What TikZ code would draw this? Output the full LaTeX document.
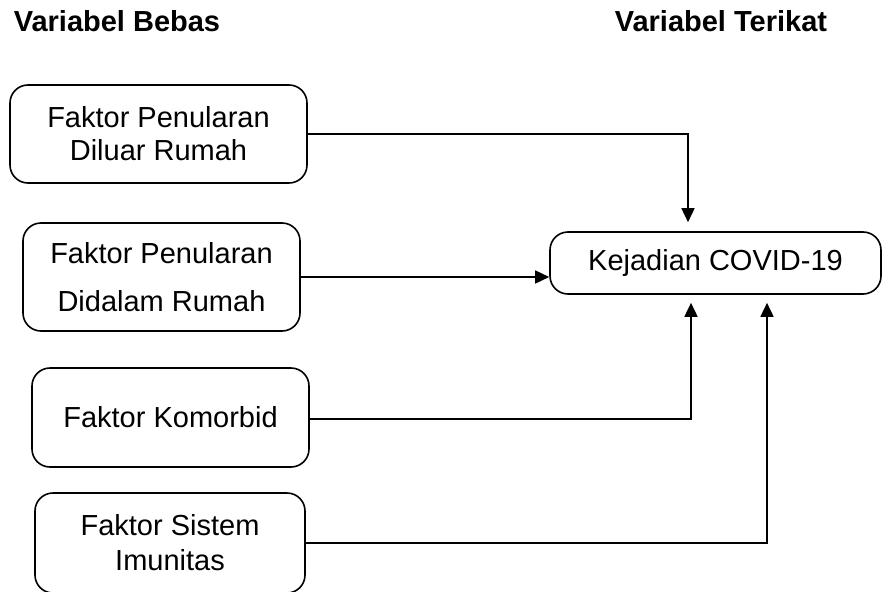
\documentclass[tikz,border=0pt]{standalone}
\usepackage{fontspec}
\setmainfont{Liberation Sans}
\usetikzlibrary{positioning, calc, arrows.meta}

\begin{document}
\begin{tikzpicture}[x=1pt, y=-1pt, ->, >={Triangle[length=14pt,width=13pt]}, line width=1.6pt,
  faktor/.style={draw, rectangle, rounded corners=18pt, align=center, inner sep=0pt,
    font=\fontsize{29}{33}\selectfont},
  judul/.style={inner sep=0pt, anchor=base west, font=\fontsize{29}{33}\selectfont\bfseries}]
  \useasboundingbox (0,0) rectangle (882,591);

  \node[judul] (bebas) at (13,32) {Variabel Bebas};
  \node[judul] (terikat) at (614,32) {Variabel Terikat};

  \node[faktor, minimum width=297pt, minimum height=98pt] (luar) at (158.5,134) {Faktor Penularan\\Diluar Rumah};
  \node[faktor, minimum width=277pt, minimum height=108pt, font=\fontsize{29}{48}\selectfont] (dalam) at (161.5,277) {Faktor Penularan\\Didalam Rumah};
  \node[faktor, minimum width=277pt, minimum height=99pt] (komorbid) at (170.5,417.5) {Faktor Komorbid};
  \node[faktor, minimum width=270pt, minimum height=100pt, font=\fontsize{29}{35}\selectfont] (imun) at (170,543) {Faktor Sistem\\Imunitas};
  \node[faktor, minimum width=331pt, minimum height=62pt] (covid) at (715.5,263) {Kejadian COVID-19};

  \draw[shorten >=9pt] (luar.east) -| ([xshift=-27.5pt]covid.north);
  \draw (dalam.east) -- (dalam.east -| covid.west);
  \draw[shorten >=8pt] (komorbid.east |- 0,419) -| ([xshift=-24.5pt]covid.south);
  \draw[shorten >=8pt] (imun.east) -| ([xshift=51.5pt]covid.south);
\end{tikzpicture}
\end{document}
